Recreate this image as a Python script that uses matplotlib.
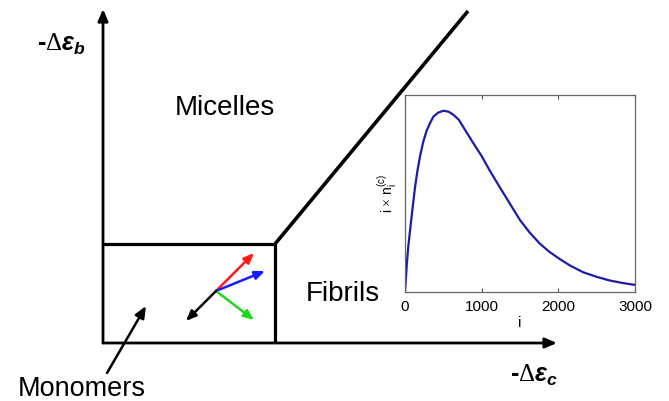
import matplotlib
matplotlib.use("Agg")
import matplotlib.pyplot as plt

plt.rcParams['font.family'] = ['Liberation Sans', 'DejaVu Sans']
plt.rcParams['mathtext.fontset'] = 'custom'
plt.rcParams['mathtext.rm'] = 'Liberation Serif'
plt.rcParams['mathtext.it'] = 'Liberation Sans:italic'
plt.rcParams['mathtext.bf'] = 'Liberation Sans:bold'
plt.rcParams['mathtext.bfit'] = 'Liberation Sans:bold:italic'

# phase diagram schematic (figure pixel coords, y down)
box_x = [103, 275, 275]
box_y = [244, 244, 343]
diag_x = [275, 468]
diag_y = [244, 11]
origin = (103, 343)
yaxis_tip = (103, 9)
xaxis_tip = (557, 343)
pointer_tail = (107, 373)
pointer_tip = (146, 306)

# small orientation arrows
vec_origin = (216, 291)
vec_tips = [(254, 253), (265, 271), (254, 320), (186, 321)]
vec_colors = ['#ff1a1a', '#1a1aff', '#1adb1a', 'black']

# size distribution (inset)
i_vals = [0, 10, 22, 40, 65, 100, 130, 160, 196, 240, 283, 330, 370, 430, 500,
          570, 630, 700, 804, 900, 1000, 1100, 1239, 1350, 1500, 1630, 1760,
          1880, 2008, 2150, 2325, 2500, 2673, 2850, 3000]
n_vals = [0.0, 0.06, 0.13, 0.22, 0.31, 0.43, 0.53, 0.61, 0.69, 0.765, 0.82,
          0.86, 0.89, 0.91, 0.92, 0.915, 0.90, 0.875, 0.81, 0.75, 0.69, 0.62,
          0.53, 0.46, 0.365, 0.30, 0.245, 0.205, 0.17, 0.135, 0.10, 0.077,
          0.058, 0.045, 0.036]
xticks = [0, 1000, 2000, 3000]

fig = plt.figure(figsize=(6.69, 4.01), dpi=100)
ax = fig.add_axes([0, 0, 1, 1])
ax.set_xlim(0, 669)
ax.set_ylim(401, 0)
ax.axis('off')

head = dict(arrowstyle='-|>,head_length=0.7,head_width=0.3', lw=2.0, color='black',
            shrinkA=0, shrinkB=0)
ax.annotate('', xy=yaxis_tip, xytext=origin, arrowprops=head)
ax.annotate('', xy=xaxis_tip, xytext=origin, arrowprops=head)
ax.plot(box_x, box_y, color='black', lw=2.3, solid_capstyle='butt')
ax.plot(diag_x, diag_y, color='black', lw=2.6, solid_capstyle='butt')

for tip, c in zip(vec_tips, vec_colors):
    ax.annotate('', xy=tip, xytext=vec_origin,
                arrowprops=dict(arrowstyle='-|>,head_length=0.6,head_width=0.25',
                                lw=1.8, color=c, shrinkA=0, shrinkB=0))
ax.annotate('', xy=pointer_tip, xytext=pointer_tail,
            arrowprops=dict(head, lw=1.8))

ax.text(225, 108, 'Micelles', fontsize=20, ha='center', va='center')
ax.text(343, 294, 'Fibrils', fontsize=20, ha='center', va='center')
ax.text(82, 389, 'Monomers', fontsize=19.5, ha='center', va='center')
ax.text(37, 44, r'-$\Delta\mathbfit{\varepsilon}_{\mathbfit{b}}$',
        fontsize=18, fontweight='bold', ha='left', va='center')
ax.text(510, 375, r'-$\Delta\mathbfit{\varepsilon}_{\mathbfit{c}}$',
        fontsize=18, fontweight='bold', ha='left', va='center')

# inset
ins = fig.add_axes([405 / 669, 1 - 292 / 401, 230 / 669, 197 / 401])
ins.plot(i_vals, n_vals, color='#1c1ca8', lw=1.6)
ins.set_xlim(0, 3000)
ins.set_ylim(0, 1)
ins.set_xticks(xticks)
ins.set_yticks([])
ins.tick_params(axis='x', direction='in', top=True, length=3, labelsize=11, pad=6,
                color='#555555')
for s in ins.spines.values():
    s.set_color('#666666')
    s.set_linewidth(0.9)
ins.set_xlabel('i', fontsize=11, labelpad=1)
ins.set_ylabel(r'i $\times$ n$_\mathregular{i}^{\mathregular{(c)}}$', fontsize=10, labelpad=4)

fig.savefig('out.png', dpi=100)
